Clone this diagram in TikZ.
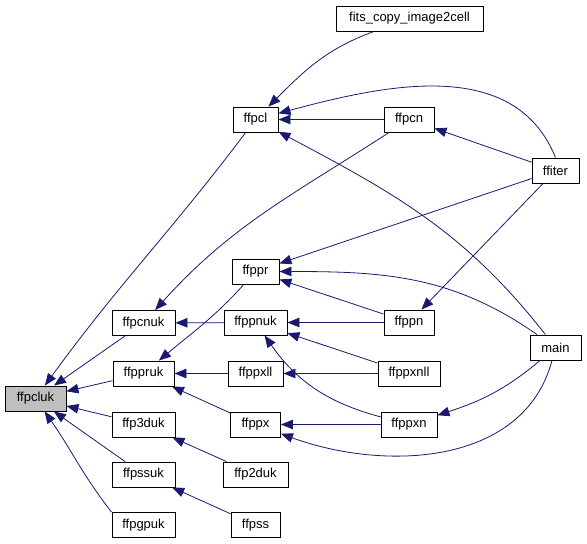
\documentclass[tikz,border=0pt]{standalone}
\usepackage{fontspec}
\setmainfont{Liberation Sans}
\usetikzlibrary{arrows.meta}
\definecolor{callblue}{HTML}{191970}
\definecolor{rootgray}{HTML}{BFBFBF}
\begin{document}
\begin{tikzpicture}[x=1pt, y=-1pt,
        fn/.style={draw, fill=white, line width=0.9pt, inner sep=0pt, minimum height=25pt, font=\fontsize{13}{15}\selectfont},
        call/.style={->, draw=callblue, line width=0.8pt},
        >={Triangle[length=12pt, width=9.5pt, fill=callblue]}]
            \useasboundingbox (0,0) rectangle (587,544);

            % columns from right to left
            \node[fn, minimum width=147pt] (fits) at (409.5,18.5) {fits\_copy\_image2cell};
            \node[fn, minimum width=47pt] (ffiter) at (555.5,170.5) {ffiter};
            \node[fn, minimum width=51pt] (main) at (555.5,347.5) {main};

            \node[fn, minimum width=50pt] (ffpcn) at (409,119.5) {ffpcn};
            \node[fn, minimum width=50pt] (ffppn) at (409,322.5) {ffppn};
            \node[fn, minimum width=62pt] (ffppxnll) at (409,373.5) {ffppxnll};
            \node[fn, minimum width=56pt] (ffppxn) at (409,424.5) {ffppxn};

            \node[fn, minimum width=45pt] (ffpcl) at (255.5,119.5) {ffpcl};
            \node[fn, minimum width=47pt] (ffppr) at (255.5,271.5) {ffppr};
            \node[fn, minimum width=63pt] (ffppnuk) at (255.5,322.5) {ffppnuk};
            \node[fn, minimum width=55pt] (ffppxll) at (255.5,373.5) {ffppxll};
            \node[fn, minimum width=50pt] (ffppx) at (255.5,424.5) {ffppx};
            \node[fn, minimum width=65pt] (ffp2duk) at (255.5,474.5) {ffp2duk};
            \node[fn, minimum width=49pt] (ffpss) at (255.5,525) {ffpss};

            \node[fn, minimum width=63pt] (ffpcnuk) at (143.5,323) {ffpcnuk};
            \node[fn, minimum width=61pt] (ffppruk) at (143.5,373.5) {ffppruk};
            \node[fn, minimum width=63pt] (ffp3duk) at (143.5,424.5) {ffp3duk};
            \node[fn, minimum width=63pt] (ffpssuk) at (143.5,474.5) {ffpssuk};
            \node[fn, minimum width=63pt] (ffpgpuk) at (143.5,525) {ffpgpuk};

            \node[fn, fill=rootgray, minimum width=61pt] (ffpcluk) at (35.5,398.5) {ffpcluk};

            % straight calls
            \foreach \caller/\callee in {ffpcnuk/ffpcluk, ffppruk/ffpcluk, ffp3duk/ffpcluk,
                    ffpssuk/ffpcluk, ffpcn/ffpcl, ffiter/ffpcn, ffppnuk/ffpcnuk,
                    ffppxll/ffppruk, ffppx/ffppruk, ffiter/ffppr, ffppn/ffppr,
                    ffiter/ffppn, ffppn/ffppnuk, ffppxnll/ffppnuk, ffppxnll/ffppxll,
                    ffppxn/ffppx, ffp2duk/ffp3duk, ffpss/ffpssuk}
                \draw[call] (\caller) -- (\callee);

            % bent calls
            \draw[call] (ffpcl) to[out=233, in=54] (ffpcluk);
            \draw[call] (ffpgpuk.north west) to[out=128, in=-55] (ffpcluk);
            \draw[call] (fits) to[out=200, in=45] (ffpcl);
            \draw[call] (ffiter.north) to[out=112, in=15] (ffpcl);
            \draw[call] (main) to[out=128, in=-28] (ffpcl);
            \draw[call] (ffpcn) to[out=213, in=48] (ffpcnuk);
            \draw[call] (ffppr) to[out=228, in=40] (ffppruk);
            \draw[call] (main) to[out=145, in=0] (ffppr);
            \draw[call] (ffppxn) to[out=165, in=-55] (ffppnuk);
            \draw[call] (main) to[out=220, in=18] (ffppxn);
            \draw[call] (main) to[out=255, in=-20] (ffppx);
        \end{tikzpicture}
\end{document}
